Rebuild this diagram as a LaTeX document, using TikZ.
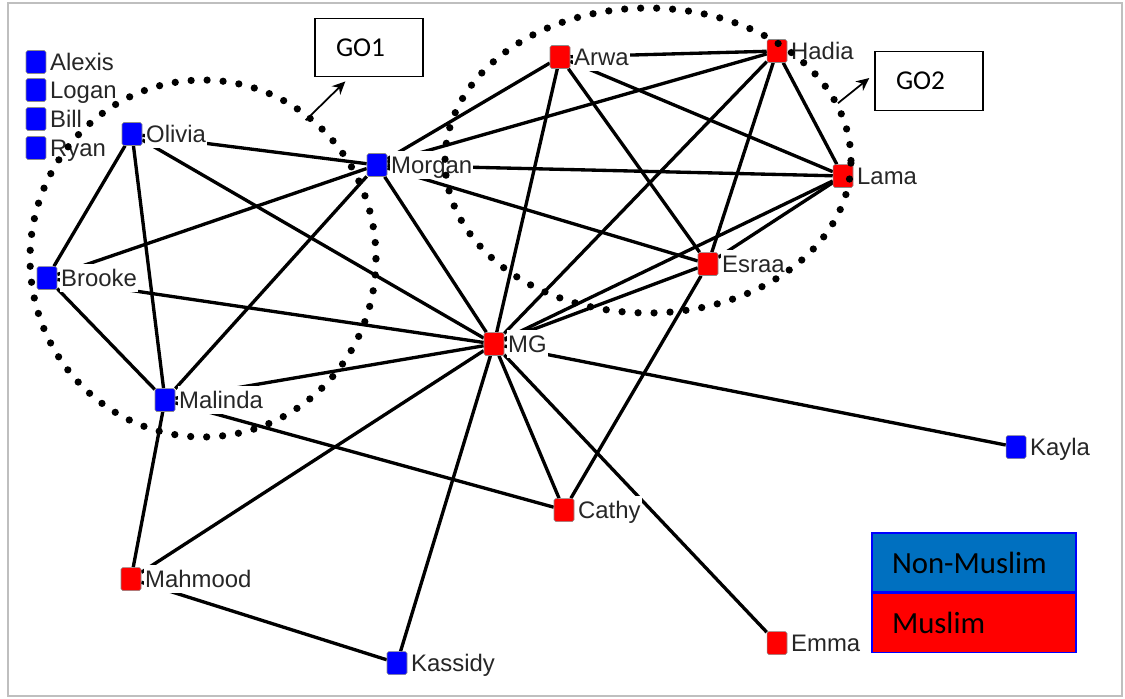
\documentclass[tikz,border=0pt]{standalone}
\usepackage{fontspec}
\setmainfont{Carlito}
\newfontfamily\netfont{Liberation Sans}
\usetikzlibrary{shapes.geometric,positioning,backgrounds,arrows.meta}
\definecolor{nonmuslim}{HTML}{0000FF}
\definecolor{muslim}{HTML}{FF0000}
\definecolor{keyblue}{HTML}{0070C0}

\tikzset{
  actor/.style={rectangle, rounded corners=1pt, draw=black!45, line width=0.3pt,
    minimum width=0.4cm, minimum height=0.46cm, inner sep=0pt},
  nm/.style={actor, fill=nonmuslim},
  mu/.style={actor, fill=muslim},
  actorlabel/.style={font=\netfont\fontsize{13.6}{15}\selectfont, text=black!85,
    fill=white, inner sep=0.6pt, text height=12pt, text depth=2.5pt},
  tie/.style={line width=1.9pt, black},
  grp/.style={ellipse, draw, line width=0.145cm, line cap=round,
    dash pattern=on 0pt off 0.32cm, inner sep=0pt},
  gobox/.style={draw, line width=0.8pt, minimum height=1.17cm, text width=1.32cm,
    inner xsep=0.42cm, align=left, font=\fontsize{15.5}{18}\selectfont},
  goarrow/.style={-{Stealth[length=0.26cm,width=0.24cm]}, line width=1pt},
  keybox/.style={draw=nonmuslim, line width=0.8pt, minimum height=1.18cm,
    text width=3.28cm, inner xsep=0.4cm, align=left,
    font=\fontsize{17.5}{20}\selectfont}
}

\begin{document}
\begin{tikzpicture}[x=0.02cm, y=-0.02cm, label distance=0.05cm]
		\useasboundingbox (0,0) rectangle (1125,698);
		
		% Isolated actors
		\node[nm, label={[actorlabel]right:Alexis}] (alexis) at (36,62) {};
		\node[nm, label={[actorlabel]right:Logan}] (logan) at (36,90) {};
		\node[nm, label={[actorlabel]right:Bill}] (bill) at (36,119) {};
		\node[nm, label={[actorlabel]right:Ryan}] (ryan) at (36,148) {};
		
		% Actors of the network
		\node[nm, label={[actorlabel]right:Olivia}] (olivia) at (132,134) {};
		\node[nm, label={[actorlabel]right:Morgan}] (morgan) at (377,165) {};
		\node[nm, label={[actorlabel]right:Brooke}] (brooke) at (47,278) {};
		\node[nm, label={[actorlabel]right:Malinda}] (malinda) at (165,400) {};
		\node[mu, label={[actorlabel]right:Mahmood}] (mahmood) at (131,579) {};
		\node[nm, label={[actorlabel]right:Kassidy}] (kassidy) at (397,663) {};
		\node[mu, label={[actorlabel]right:MG}] (mg) at (494,344) {};
		\node[nm, label={[actorlabel]right:Kayla}] (kayla) at (1016,447) {};
		\node[mu, label={[actorlabel]right:Cathy}] (cathy) at (564,510) {};
		\node[mu, label={[actorlabel]right:Emma}] (emma) at (777,643) {};
		\node[mu, label={[actorlabel]right:Arwa}] (arwa) at (560,57) {};
		\node[mu, label={[actorlabel]right:Hadia}] (hadia) at (777,51) {};
		\node[mu, label={[actorlabel]right:Lama}] (lama) at (843,176) {};
		\node[mu, label={[actorlabel]right:Esraa}] (esraa) at (708,264) {};
		
		% Ties, kept under the labels
		\begin{scope}[on background layer]
			\draw[black!25, line width=1pt] (8,3) rectangle (1122,696);
			\draw[tie] (olivia) -- (morgan) (olivia) -- (brooke) (olivia) -- (malinda) (olivia) -- (mg);
			\draw[tie] (brooke) -- (morgan) (brooke) -- (mg) (brooke) -- (malinda);
			\draw[tie] (malinda) -- (morgan) (malinda) -- (mg) (malinda) -- (cathy) (malinda) -- (mahmood);
			\draw[tie] (mahmood) -- (mg) (mahmood) -- (kassidy) (kassidy) -- (mg);
			\draw[tie] (mg) -- (kayla) (mg) -- (cathy) (mg) -- (emma) (mg) -- (morgan);
			\draw[tie] (mg) -- (arwa) (mg) -- (hadia) (mg) -- (lama) (mg) -- (esraa);
			\draw[tie] (morgan) -- (arwa) (morgan) -- (hadia) (morgan) -- (lama) (morgan) -- (esraa);
			\draw[tie] (arwa) -- (hadia) (arwa) -- (esraa) (arwa) -- (lama);
			\draw[tie] (hadia) -- (lama) (hadia) -- (esraa) (lama) -- (esraa) (esraa) -- (cathy);
		\end{scope}
		
		% Groups
		\node[grp, minimum width=6.92cm, minimum height=7.14cm] (grp1) at (203,258.5) {};
		\node[grp, minimum width=8.12cm, minimum height=6.1cm] (grp2) at (648,160.5) {};
		\node[gobox] (go1) at (369,47.5) {GO1};
		\node[gobox] (go2) at (929,81) {GO2};
		\draw[goarrow, shorten <=-0.16cm] (grp1.53) -- ([xshift=0.62cm,yshift=-0.08cm]go1.south west);
		\draw[goarrow, shorten <=-0.04cm] (grp2.17) -- ([xshift=-0.1cm,yshift=0.06cm]go2.west);
		
		% Key
		\node[keybox, fill=keyblue] (keynm) at (974,562.5) {Non-Muslim};
		\node[keybox, fill=muslim, below=0pt of keynm] (keymu) {Muslim};
	\end{tikzpicture}
\end{document}
